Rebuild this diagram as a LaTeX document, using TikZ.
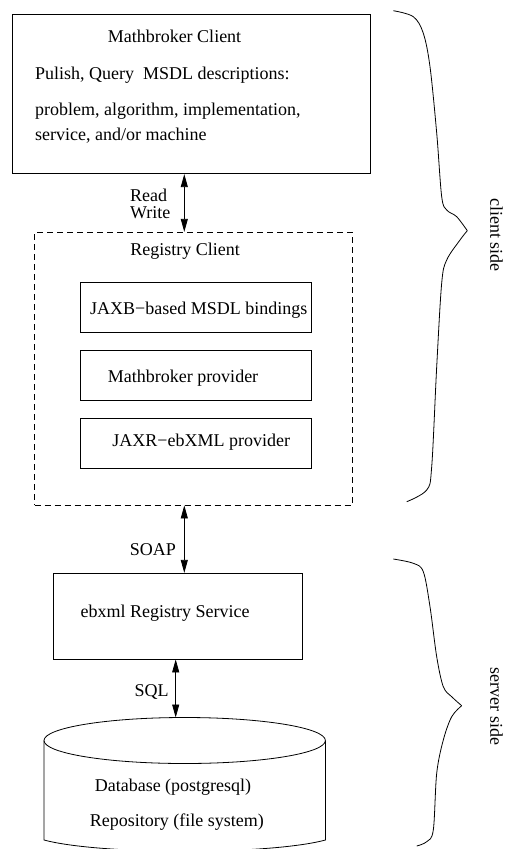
\documentclass[tikz,border=0pt]{standalone}
\usepackage{fontspec}
\setmainfont{Liberation Serif}
\usetikzlibrary{arrows.meta}
\begin{document}
\begin{tikzpicture}[x=1pt,y=-1pt,
  lw/.style={line width=0.8pt},
  box/.style={draw,lw,rectangle,inner sep=0pt},
  txt/.style={inner sep=0pt,font=\fontsize{18}{21}\selectfont},
  arr/.style={lw,{Triangle[length=13pt,width=7pt]}-{Triangle[length=13pt,width=7pt]}},
  bracestyle/.style={lw}]
\useasboundingbox (0,0) rectangle (504,849);
\clip (0,0) rectangle (504,849);

% Mathbroker client box
\node[box,minimum width=358.4pt,minimum height=159pt] (mbc) at (191.5,94.2) {};
\node[txt,anchor=base] (mbct) at (174.5,42.3) {Mathbroker Client};
\node[txt,anchor=base west] (pq) at (35,79.3) {Pulish, Query~~MSDL descriptions:};
\node[txt,anchor=base west] (pa) at (35,115) {problem, algorithm, implementation,};
\node[txt,anchor=base west] (sm) at (35,140.7) {service, and/or machine};

% Registry client (dashed)
\node[draw,lw,dash pattern=on 6pt off 4pt,minimum width=317.6pt,minimum height=272.7pt,inner sep=0pt] (rc) at (193.5,368.65) {};
\node[txt,anchor=base] (rct) at (185,255.3) {Registry Client};

\node[box,minimum width=231pt,minimum height=50pt] (b1) at (195.8,307.3) {};
\node[box,minimum width=231pt,minimum height=50.3pt] (b2) at (195.8,375.15) {};
\node[box,minimum width=231pt,minimum height=50pt] (b3) at (195.8,443.3) {};
\node[txt,anchor=base] (b1t) at (198.7,314.3) {JAXB\textminus based MSDL bindings};
\node[txt,anchor=base] (b2t) at (183,382.3) {Mathbroker provider};
\node[txt,anchor=base] (b3t) at (201.2,446) {JAXR\textminus ebXML provider};

% ebxml registry service
\node[box,minimum width=249.7pt,minimum height=85.7pt] (ebx) at (177.85,616.15) {};
\node[txt,anchor=base] (ebxt) at (165.2,617.7) {ebxml Registry Service};

% database cylinder
\coordinate (dbc) at (184.7,740.5);
\draw[lw] (dbc) ellipse [x radius=140.7pt, y radius=23pt];
\coordinate (dbtop) at (184.7,717.5);
\draw[lw] (44,740.5) -- (44,840) .. controls (100,855) and (270,855) .. (325.4,840) -- (325.4,740.5);
\node[txt,anchor=base] (db1) at (173,791) {Database (postgresql)};
\node[txt,anchor=base] (db2) at (176.8,826.7) {Repository (file system)};

% arrows
\coordinate (ax1) at (184.3,0);
\coordinate (ax2) at (175.7,0);
\draw[arr] (mbc.south -| ax1) -- (rc.north -| ax1);
\node[txt,anchor=base west] (rd) at (130,201) {Read};
\node[txt,anchor=base west] (wr) at (130,218.3) {Write};
\draw[arr] (rc.south -| ax1) -- (ebx.north -| ax1);
\node[txt,anchor=base] (soap) at (152.8,555) {SOAP};
\draw[arr] (ebx.south -| ax2) -- (dbtop -| ax2);
\node[txt,anchor=base] (sql) at (151.7,696.7) {SQL};

% braces
\draw[bracestyle] plot[smooth,tension=0.55] coordinates {(393.3,10.7) (413.3,16.7) (423.3,33.3) (430,66.7) (436.7,133) (441.7,196.7) (446.7,210) (456.7,216.7) (467.3,230.7)};
\draw[bracestyle] plot[smooth,tension=0.55] coordinates {(467.3,230.7) (460,240) (446.7,260) (441.7,283) (436.7,366.7) (431.7,466.7) (426.7,490) (406.7,501.7)};
\draw[bracestyle] plot[smooth,tension=0.55] coordinates {(393.3,559) (413.3,563.3) (423.3,571.7) (430,606.7) (436.7,656.7) (443.3,686.7) (451.7,696.7) (461.7,705.7)};
\draw[bracestyle] plot[smooth,tension=0.55] coordinates {(461.7,705.7) (451.7,716.7) (443.3,740) (436.7,773.3) (433.3,830) (426.7,841.7) (416.7,846)};

\node[txt,rotate=-90] (cs) at (496.5,235) {client side};
\node[txt,rotate=-90] (ss) at (496.5,706.7) {server side};
\end{tikzpicture}
\end{document}
